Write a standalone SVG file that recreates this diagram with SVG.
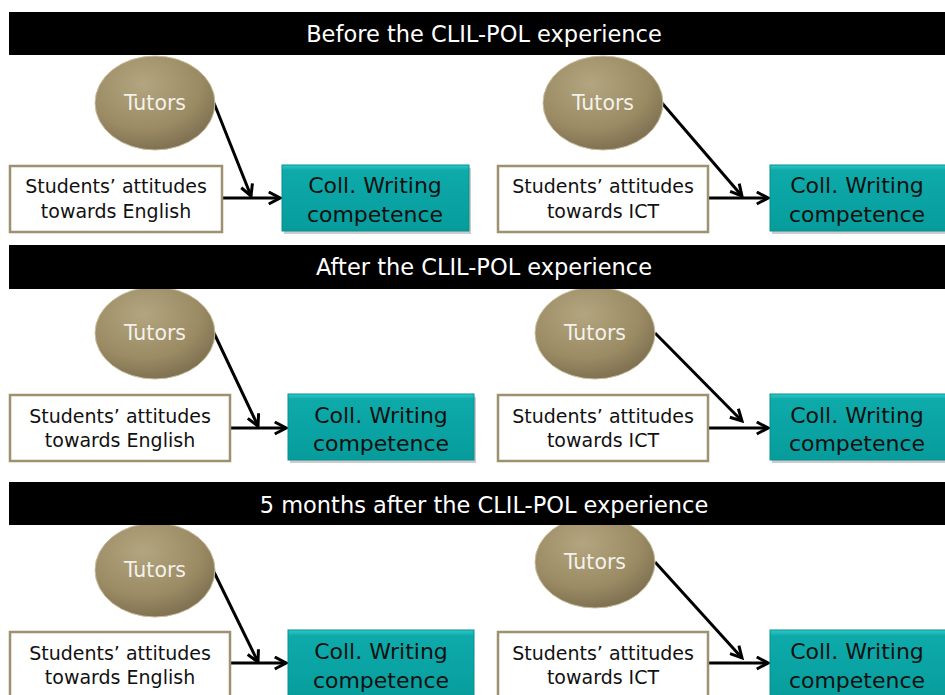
<svg xmlns="http://www.w3.org/2000/svg" width="945" height="695" viewBox="0 0 945 695">
  <defs>
    <radialGradient id="tutorFill" cx="0.4" cy="0.3" r="0.8">
      <stop offset="0" stop-color="#b3a57f"/>
      <stop offset="0.6" stop-color="#9a8b64"/>
      <stop offset="1" stop-color="#74674a"/>
    </radialGradient>
    <linearGradient id="collFill" x1="0" y1="0" x2="0" y2="1">
      <stop offset="0" stop-color="#2fc9c9"/>
      <stop offset="0.08" stop-color="#0eaaaa"/>
      <stop offset="1" stop-color="#079c9c"/>
    </linearGradient>
    <marker id="chev" viewBox="0 0 10 10" refX="8.5" refY="5" markerWidth="5" markerHeight="5" orient="auto" markerUnits="strokeWidth">
      <path d="M1,1 L8.5,5 L1,9" fill="none" stroke="#000" stroke-width="2" stroke-linejoin="miter"/>
    </marker>
  </defs>
  <style>
    text { font-family: "DejaVu Sans", sans-serif; text-anchor: middle; }
    .bar { fill: #000; }
    .title { fill: #fff; font-size: 22.5px; }
    .tutor { fill: url(#tutorFill); stroke: #c9bd9c; stroke-width: 1; }
    .tutor-t { fill: #f4f1ea; font-size: 20.5px; }
    .stud { fill: #fff; stroke: #9d9170; stroke-width: 2.5; }
    .stud-t { fill: #111; font-size: 19px; }
    .coll { fill: url(#collFill); stroke: #0b8e8e; stroke-width: 1; }
    .coll-shadow { fill: #000; opacity: 0.2; }
    .coll-t { fill: #111; font-size: 22px; }
    .edge { stroke: #000; stroke-width: 3; fill: none; marker-end: url(#chev); }
  </style>

  <rect width="945" height="695" fill="#fff"/>

  <!-- connectors -->
  <g id="connectors">
    <line class="edge" x1="214" y1="103" x2="251" y2="196"/>
    <line class="edge" x1="222" y1="198" x2="280" y2="198"/>
    <line class="edge" x1="662" y1="103" x2="742" y2="196"/>
    <line class="edge" x1="708" y1="198" x2="768" y2="198"/>

    <line class="edge" x1="214" y1="333" x2="258" y2="426"/>
    <line class="edge" x1="230" y1="428" x2="286" y2="428"/>
    <line class="edge" x1="655" y1="333" x2="742" y2="421"/>
    <line class="edge" x1="708" y1="428" x2="768" y2="428"/>

    <line class="edge" x1="214" y1="572" x2="258" y2="662"/>
    <line class="edge" x1="230" y1="663" x2="286" y2="663"/>
    <line class="edge" x1="655" y1="562" x2="742" y2="658"/>
    <line class="edge" x1="708" y1="663" x2="768" y2="663"/>
  </g>

  <!-- Before: English -->
  <g id="tutors-1">
    <ellipse class="tutor" cx="155" cy="103" rx="60" ry="47"/>
    <text class="tutor-t" x="155" y="110">Tutors</text>
  </g>
  <g id="students-1">
    <rect class="stud" x="10" y="166" width="212" height="66"/>
    <text class="stud-t" x="116" y="193">Students’ attitudes</text>
    <text class="stud-t" x="116" y="218">towards English</text>
  </g>
  <g id="coll-1">
    <rect class="coll-shadow" x="284" y="168" width="187" height="66"/>
    <rect class="coll" x="282" y="165" width="187" height="66"/>
    <text class="coll-t" x="375" y="193">Coll. Writing</text>
    <text class="coll-t" x="375" y="222">competence</text>
  </g>

  <!-- Before: ICT -->
  <g id="tutors-2">
    <ellipse class="tutor" cx="603" cy="103" rx="60" ry="47"/>
    <text class="tutor-t" x="603" y="110">Tutors</text>
  </g>
  <g id="students-2">
    <rect class="stud" x="498" y="166" width="210" height="66"/>
    <text class="stud-t" x="603" y="193">Students’ attitudes</text>
    <text class="stud-t" x="603" y="218">towards ICT</text>
  </g>
  <g id="coll-2">
    <rect class="coll-shadow" x="772" y="168" width="180" height="66"/>
    <rect class="coll" x="770" y="165" width="180" height="66"/>
    <text class="coll-t" x="857" y="193">Coll. Writing</text>
    <text class="coll-t" x="857" y="222">competence</text>
  </g>

  <!-- After: English -->
  <g id="tutors-3">
    <ellipse class="tutor" cx="155" cy="333" rx="60" ry="46"/>
    <text class="tutor-t" x="155" y="340">Tutors</text>
  </g>
  <g id="students-3">
    <rect class="stud" x="10" y="395" width="220" height="66"/>
    <text class="stud-t" x="120" y="423">Students’ attitudes</text>
    <text class="stud-t" x="120" y="447">towards English</text>
  </g>
  <g id="coll-3">
    <rect class="coll-shadow" x="290" y="397" width="186" height="66"/>
    <rect class="coll" x="288" y="394" width="186" height="66"/>
    <text class="coll-t" x="381" y="423">Coll. Writing</text>
    <text class="coll-t" x="381" y="451">competence</text>
  </g>

  <!-- After: ICT -->
  <g id="tutors-4">
    <ellipse class="tutor" cx="595" cy="333" rx="60" ry="46"/>
    <text class="tutor-t" x="595" y="340">Tutors</text>
  </g>
  <g id="students-4">
    <rect class="stud" x="498" y="395" width="210" height="66"/>
    <text class="stud-t" x="603" y="423">Students’ attitudes</text>
    <text class="stud-t" x="603" y="447">towards ICT</text>
  </g>
  <g id="coll-4">
    <rect class="coll-shadow" x="772" y="397" width="180" height="66"/>
    <rect class="coll" x="770" y="394" width="180" height="66"/>
    <text class="coll-t" x="857" y="423">Coll. Writing</text>
    <text class="coll-t" x="857" y="451">competence</text>
  </g>

  <!-- 5 months: English -->
  <g id="tutors-5">
    <ellipse class="tutor" cx="155" cy="570" rx="60" ry="47"/>
    <text class="tutor-t" x="155" y="577">Tutors</text>
  </g>
  <g id="students-5">
    <rect class="stud" x="10" y="632" width="220" height="70"/>
    <text class="stud-t" x="120" y="660">Students’ attitudes</text>
    <text class="stud-t" x="120" y="684">towards English</text>
  </g>
  <g id="coll-5">
    <rect class="coll" x="288" y="630" width="186" height="72"/>
    <text class="coll-t" x="381" y="659">Coll. Writing</text>
    <text class="coll-t" x="381" y="688">competence</text>
  </g>

  <!-- 5 months: ICT -->
  <g id="tutors-6">
    <ellipse class="tutor" cx="595" cy="562" rx="60" ry="46"/>
    <text class="tutor-t" x="595" y="569">Tutors</text>
  </g>
  <g id="students-6">
    <rect class="stud" x="498" y="632" width="210" height="70"/>
    <text class="stud-t" x="603" y="660">Students’ attitudes</text>
    <text class="stud-t" x="603" y="684">towards ICT</text>
  </g>
  <g id="coll-6">
    <rect class="coll" x="770" y="630" width="180" height="72"/>
    <text class="coll-t" x="857" y="659">Coll. Writing</text>
    <text class="coll-t" x="857" y="688">competence</text>
  </g>

  <!-- phase headers, drawn last so the ellipses tuck underneath -->
  <g id="header-before">
    <rect class="bar" x="9" y="12" width="936" height="43"/>
    <text class="title" x="484" y="42">Before the CLIL-POL experience</text>
  </g>
  <g id="header-after">
    <rect class="bar" x="9" y="245" width="936" height="44"/>
    <text class="title" x="484" y="275">After the CLIL-POL experience</text>
  </g>
  <g id="header-5months">
    <rect class="bar" x="9" y="482" width="936" height="43"/>
    <text class="title" x="484" y="513">5 months after the CLIL-POL experience</text>
  </g>
</svg>
